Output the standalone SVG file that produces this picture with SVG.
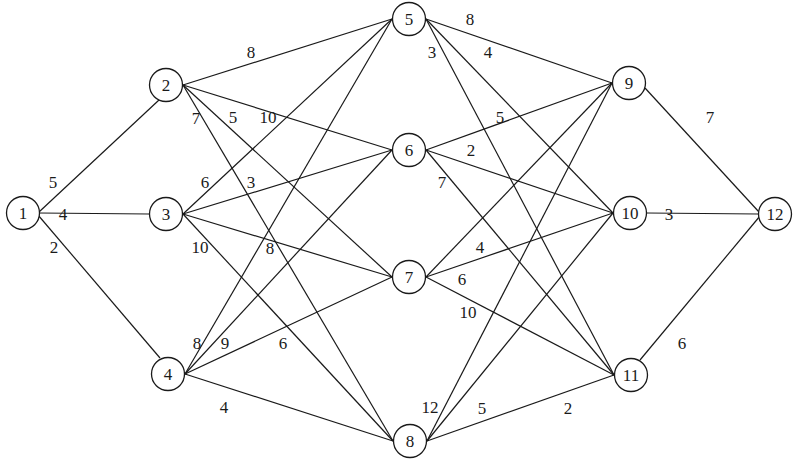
<svg xmlns="http://www.w3.org/2000/svg" width="801" height="461" viewBox="0 0 801 461">
<style>
.e line{stroke:#1a1a1a;stroke-width:1.2;fill:none}
.n circle{fill:#fff;stroke:#1a1a1a;stroke-width:1.3}
text{font-family:'Liberation Serif','DejaVu Serif',serif;font-size:17px;fill:#1a1a1a;text-anchor:middle}
</style>
<rect width="801" height="461" fill="#fff"/>
<g id="connectors" class="e">
<line x1="39" y1="212" x2="159" y2="100"/>
<line x1="39" y1="213" x2="149" y2="214"/>
<line x1="38" y1="215" x2="160" y2="358"/>
<line x1="183" y1="85" x2="392" y2="19"/>
<line x1="183" y1="85" x2="392" y2="150"/>
<line x1="183" y1="85" x2="392" y2="277"/>
<line x1="183" y1="85" x2="393" y2="441"/>
<line x1="183" y1="214" x2="392" y2="19"/>
<line x1="183" y1="214" x2="392" y2="150"/>
<line x1="183" y1="214" x2="392" y2="277"/>
<line x1="183" y1="214" x2="393" y2="441"/>
<line x1="185" y1="374" x2="392" y2="19"/>
<line x1="185" y1="374" x2="392" y2="150"/>
<line x1="185" y1="374" x2="392" y2="277"/>
<line x1="185" y1="374" x2="393" y2="441"/>
<line x1="426" y1="19" x2="612" y2="83"/>
<line x1="426" y1="19" x2="613" y2="213"/>
<line x1="426" y1="19" x2="614" y2="375"/>
<line x1="426" y1="150" x2="612" y2="83"/>
<line x1="426" y1="150" x2="613" y2="213"/>
<line x1="426" y1="150" x2="614" y2="375"/>
<line x1="426" y1="277" x2="612" y2="83"/>
<line x1="426" y1="277" x2="613" y2="213"/>
<line x1="426" y1="277" x2="614" y2="375"/>
<line x1="427" y1="441" x2="612" y2="83"/>
<line x1="427" y1="441" x2="613" y2="213"/>
<line x1="427" y1="441" x2="614" y2="375"/>
<line x1="645" y1="88" x2="759" y2="212"/>
<line x1="647" y1="213" x2="758" y2="214"/>
<line x1="640" y1="360" x2="760" y2="216"/>
</g>
<g id="edge-labels">
<text x="53" y="188">5</text>
<text x="63" y="220">4</text>
<text x="54" y="253">2</text>
<text x="251" y="58">8</text>
<text x="196" y="124">7</text>
<text x="233" y="123">5</text>
<text x="268" y="123">10</text>
<text x="205" y="188">6</text>
<text x="251" y="188">3</text>
<text x="200" y="253">10</text>
<text x="270" y="254">8</text>
<text x="197" y="349">8</text>
<text x="225" y="349">9</text>
<text x="283" y="349">6</text>
<text x="224" y="413">4</text>
<text x="430" y="413">12</text>
<text x="482" y="414">5</text>
<text x="568" y="414">2</text>
<text x="470" y="25">8</text>
<text x="432" y="58">3</text>
<text x="488" y="58">4</text>
<text x="500" y="123">5</text>
<text x="471" y="156">2</text>
<text x="442" y="188">7</text>
<text x="480" y="253">4</text>
<text x="462" y="285">6</text>
<text x="468" y="318">10</text>
<text x="669" y="220">3</text>
<text x="710" y="123">7</text>
<text x="682" y="349">6</text>
</g>
<g id="n1" class="n"><circle cx="23" cy="213" r="16.5"/><text x="23" y="219">1</text></g>
<g id="n2" class="n"><circle cx="166" cy="85" r="16.5"/><text x="166" y="91">2</text></g>
<g id="n3" class="n"><circle cx="166" cy="214" r="16.5"/><text x="166" y="220">3</text></g>
<g id="n4" class="n"><circle cx="168" cy="374" r="16.5"/><text x="168" y="380">4</text></g>
<g id="n5" class="n"><circle cx="409" cy="19" r="16.5"/><text x="409" y="25">5</text></g>
<g id="n6" class="n"><circle cx="409" cy="150" r="16.5"/><text x="409" y="156">6</text></g>
<g id="n7" class="n"><circle cx="409" cy="277" r="16.5"/><text x="409" y="283">7</text></g>
<g id="n8" class="n"><circle cx="410" cy="441" r="16.5"/><text x="410" y="447">8</text></g>
<g id="n9" class="n"><circle cx="629" cy="83" r="16.5"/><text x="629" y="89">9</text></g>
<g id="n10" class="n"><circle cx="630" cy="213" r="16.5"/><text x="630" y="219">10</text></g>
<g id="n11" class="n"><circle cx="631" cy="375" r="16.5"/><text x="631" y="381">11</text></g>
<g id="n12" class="n"><circle cx="775" cy="214" r="16.5"/><text x="775" y="220">12</text></g>
</svg>
